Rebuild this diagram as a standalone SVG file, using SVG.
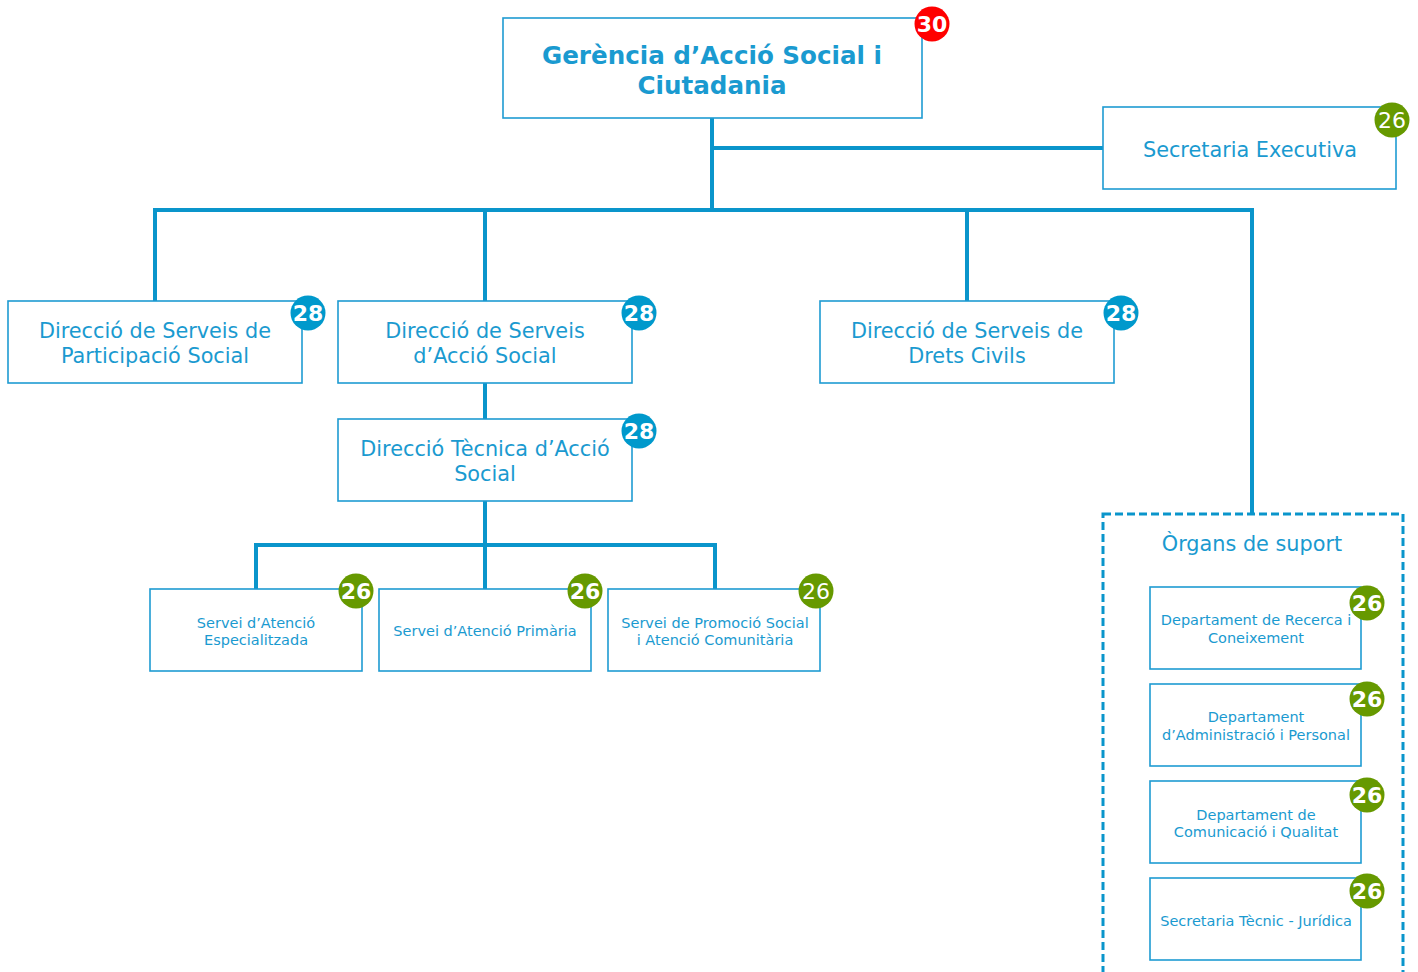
<svg xmlns="http://www.w3.org/2000/svg" width="1418" height="972" viewBox="0 0 1418 972">
<style>
.box{fill:#fff;stroke:#1E9BD2;stroke-width:1.6}
.ln{stroke:#0A95CB;stroke-width:4;fill:none}
.t{font-family:"DejaVu Sans",Verdana,sans-serif;fill:#1A9AD0;text-anchor:middle}
.t20{font-size:20.8px}
.t14{font-size:14.5px}
.b{font-family:"DejaVu Sans",Verdana,sans-serif;fill:#fff;text-anchor:middle;font-size:22px}
.blue{fill:#0099CC}.green{fill:#669900}.red{fill:#FF0000}
</style>
<rect width="1418" height="972" fill="#fff"/>
<g id="connectors">
<path class="ln" d="M712 118V210M712 148H1103M153 210H1254M155 210V301M485 210V301M967 210V301M1252 210V514M485 383V419M485 501V545M254 545H717M256 545V589M485 545V589M715 545V589"/>
</g>
<g id="gerencia">
<rect class="box" x="503" y="18" width="419" height="100"/>
<text class="t" x="712" y="64" font-size="24.6" font-weight="bold">Gerència d’Acció Social i</text>
<text class="t" x="712" y="94" font-size="24.6" font-weight="bold">Ciutadania</text>
<circle class="red" cx="932" cy="24" r="17.5"/><text class="b" x="932" y="32" font-weight="bold">30</text>
</g>
<g id="secretaria-executiva">
<rect class="box" x="1103" y="107" width="293" height="82"/>
<text class="t t20" x="1250" y="157">Secretaria Executiva</text>
<circle class="green" cx="1392" cy="120" r="17.5"/><text class="b" x="1392" y="128">26</text>
</g>
<g id="dir-participacio">
<rect class="box" x="8" y="301" width="294" height="82"/>
<text class="t t20" x="155" y="338">Direcció de Serveis de</text>
<text class="t t20" x="155" y="363">Participació Social</text>
<circle class="blue" cx="308" cy="313" r="17.5"/><text class="b" x="308" y="321" font-weight="bold">28</text>
</g>
<g id="dir-accio">
<rect class="box" x="338" y="301" width="294" height="82"/>
<text class="t t20" x="485" y="338">Direcció de Serveis</text>
<text class="t t20" x="485" y="363">d’Acció Social</text>
<circle class="blue" cx="639" cy="313" r="17.5"/><text class="b" x="639" y="321" font-weight="bold">28</text>
</g>
<g id="dir-drets">
<rect class="box" x="820" y="301" width="294" height="82"/>
<text class="t t20" x="967" y="338">Direcció de Serveis de</text>
<text class="t t20" x="967" y="363">Drets Civils</text>
<circle class="blue" cx="1121" cy="313" r="17.5"/><text class="b" x="1121" y="321" font-weight="bold">28</text>
</g>
<g id="dir-tecnica">
<rect class="box" x="338" y="419" width="294" height="82"/>
<text class="t t20" x="485" y="456">Direcció Tècnica d’Acció</text>
<text class="t t20" x="485" y="481">Social</text>
<circle class="blue" cx="639" cy="431" r="17.5"/><text class="b" x="639" y="439" font-weight="bold">28</text>
</g>
<g id="servei-especialitzada">
<rect class="box" x="150" y="589" width="212" height="82"/>
<text class="t t14" x="256" y="628">Servei d’Atenció</text>
<text class="t t14" x="256" y="645">Especialitzada</text>
<circle class="green" cx="356" cy="591" r="17.5"/><text class="b" x="356" y="599" font-weight="bold">26</text>
</g>
<g id="servei-primaria">
<rect class="box" x="379" y="589" width="212" height="82"/>
<text class="t t14" x="485" y="636">Servei d’Atenció Primària</text>
<circle class="green" cx="585" cy="591" r="17.5"/><text class="b" x="585" y="599" font-weight="bold">26</text>
</g>
<g id="servei-promocio">
<rect class="box" x="608" y="589" width="212" height="82"/>
<text class="t t14" x="715" y="628">Servei de Promoció Social</text>
<text class="t t14" x="715" y="645">i Atenció Comunitària</text>
<circle class="green" cx="816" cy="591" r="17.5"/><text class="b" x="816" y="599">26</text>
</g>
<g id="organs-suport">
<rect x="1103" y="514" width="300" height="470" fill="none" stroke="#0A95CB" stroke-width="3" stroke-dasharray="8,4"/>
<text class="t t20" x="1252" y="551">Òrgans de suport</text>
</g>
<g id="dept-recerca">
<rect class="box" x="1150" y="587" width="211" height="82"/>
<text class="t t14" x="1256" y="625">Departament de Recerca i</text>
<text class="t t14" x="1256" y="643">Coneixement</text>
<circle class="green" cx="1367" cy="603" r="17.5"/><text class="b" x="1367" y="611" font-weight="bold">26</text>
</g>
<g id="dept-admin">
<rect class="box" x="1150" y="684" width="211" height="82"/>
<text class="t t14" x="1256" y="722">Departament</text>
<text class="t t14" x="1256" y="740">d’Administració i Personal</text>
<circle class="green" cx="1367" cy="699" r="17.5"/><text class="b" x="1367" y="707" font-weight="bold">26</text>
</g>
<g id="dept-comunicacio">
<rect class="box" x="1150" y="781" width="211" height="82"/>
<text class="t t14" x="1256" y="820">Departament de</text>
<text class="t t14" x="1256" y="837">Comunicació i Qualitat</text>
<circle class="green" cx="1367" cy="795" r="17.5"/><text class="b" x="1367" y="803" font-weight="bold">26</text>
</g>
<g id="secretaria-tecnic">
<rect class="box" x="1150" y="878" width="211" height="82"/>
<text class="t t14" x="1256" y="926">Secretaria Tècnic - Jurídica</text>
<circle class="green" cx="1367" cy="891" r="17.5"/><text class="b" x="1367" y="899" font-weight="bold">26</text>
</g>
</svg>
